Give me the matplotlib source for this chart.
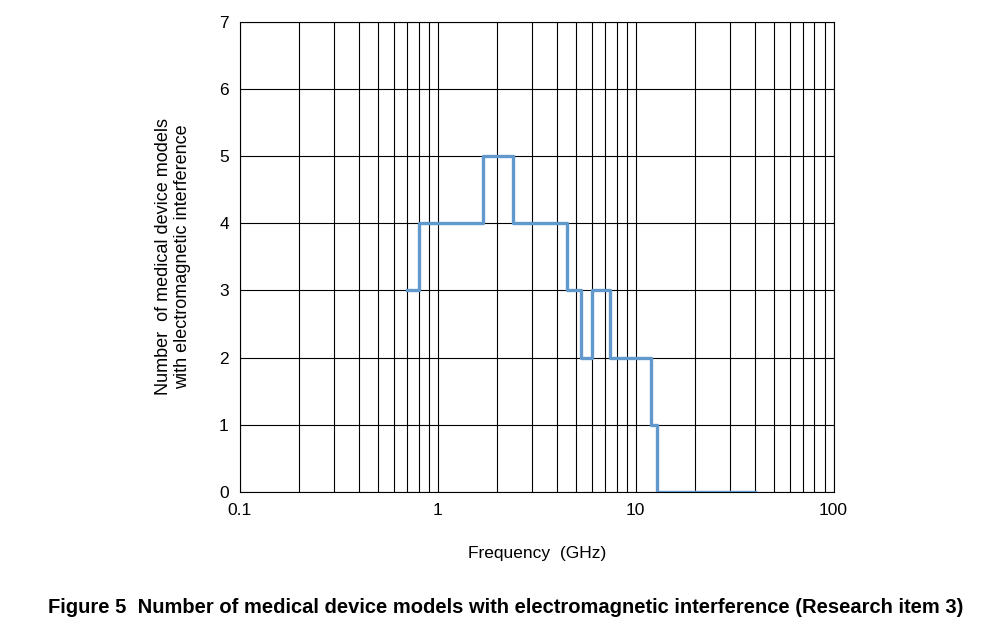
import matplotlib
matplotlib.use("Agg")
import matplotlib.pyplot as plt
from matplotlib.ticker import FixedLocator, LogLocator, NullFormatter, FixedFormatter

freq_ghz = [0.7, 0.8, 1.7, 2.4, 4.5, 5.3, 6.0, 7.4, 12.0, 12.8, 40.0]
num_models = [3, 4, 5, 4, 3, 2, 3, 2, 1, 0, 0]
x_ticks = [0.1, 1, 10, 100]
x_labels = ["0.1", "1", "10", "100"]

fig = plt.figure(figsize=(10.08, 6.39), dpi=100)
ax = fig.add_axes([0.238, 0.230, 0.589, 0.736])
ax.step(freq_ghz, num_models, where="post", color="#6199cc", lw=2.4, zorder=3)
ax.set_xscale("log")
ax.set_xlim(0.1, 100)
ax.set_ylim(0, 7)
ax.xaxis.set_major_locator(FixedLocator(x_ticks))
ax.xaxis.set_major_formatter(FixedFormatter(x_labels))
ax.xaxis.set_minor_locator(LogLocator(base=10, subs=range(2, 10)))
ax.xaxis.set_minor_formatter(NullFormatter())
ax.set_yticks(range(0, 8))
ax.grid(True, which="both", axis="x", color="black", lw=0.8)
ax.grid(True, which="major", axis="y", color="black", lw=0.8)
ax.tick_params(which="both", length=0, labelsize=12.5, pad=8)
for s in ax.spines.values():
    s.set_color("black"); s.set_linewidth(0.8)
ax.set_xlabel("Frequency  (GHz)", fontsize=12.5, labelpad=20, family="Liberation Sans")
ax.set_ylabel("Number  of medical device models\nwith electromagnetic interference", fontsize=13, labelpad=20, family="Liberation Sans")
for lab in ax.get_xticklabels() + ax.get_yticklabels():
    lab.set_family("Liberation Sans")
fig.text(0.502, 0.05, "Figure 5  Number of medical device models with electromagnetic interference (Research item 3)",
         ha="center", va="center", fontsize=14.5, fontweight="bold", family="Liberation Sans")
fig.savefig("out.png", dpi=100)
